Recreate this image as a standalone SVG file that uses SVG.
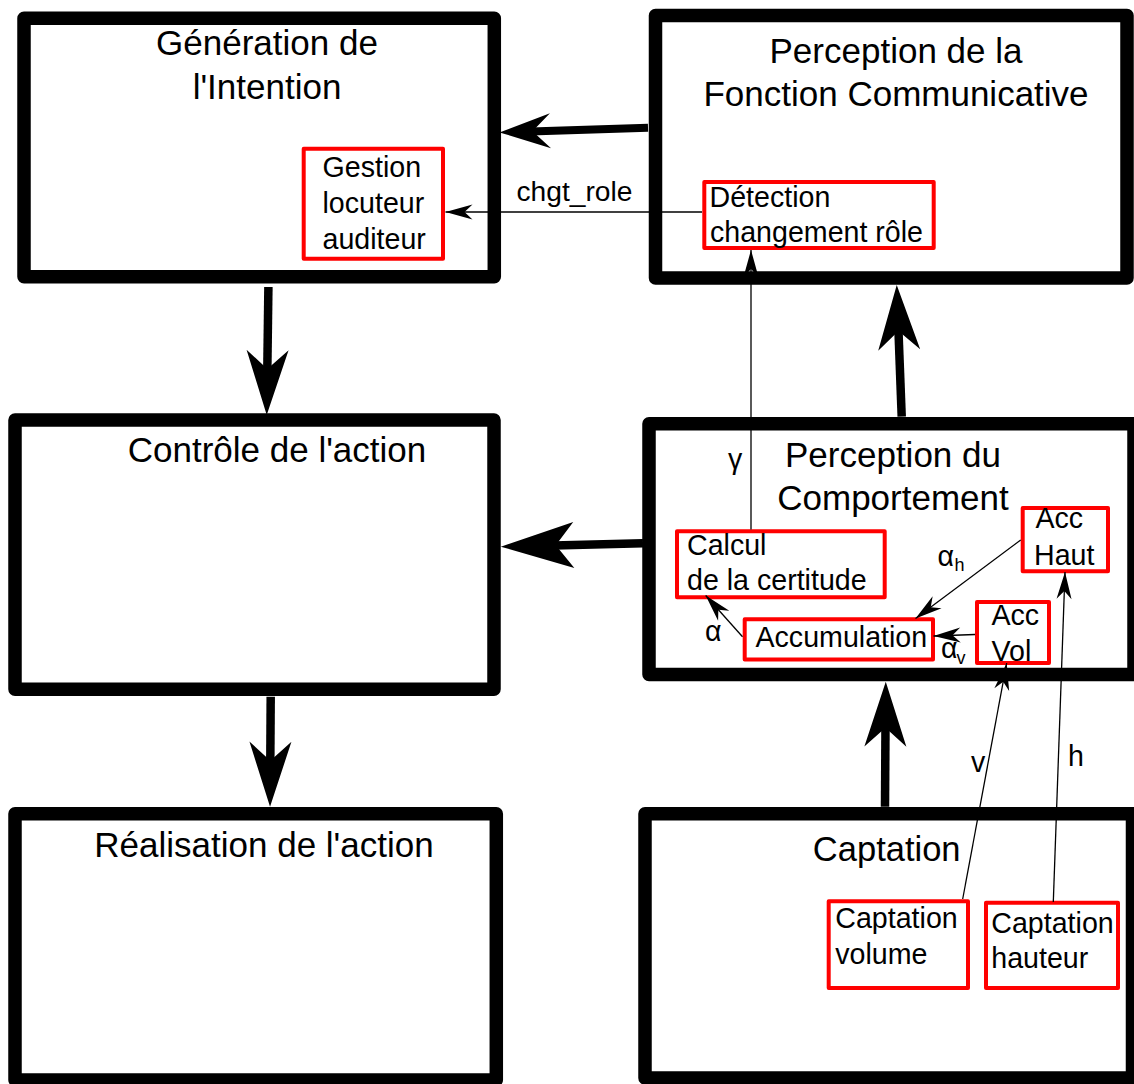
<svg xmlns="http://www.w3.org/2000/svg" width="1134" height="1084" viewBox="0 0 1134 1084">
  <style>
    .box { fill: #ffffff; stroke: #000000; stroke-width: 13.5; stroke-linejoin: round; }
    .sub { fill: #ffffff; stroke: #ff0000; stroke-width: 4; stroke-linejoin: round; }
    .title { font-family: "Liberation Sans", Arial, sans-serif; font-size: 35px; fill: #000000; text-anchor: middle; }
    .lbl { font-family: "Liberation Sans", Arial, sans-serif; font-size: 28.6px; fill: #000000; }
    .sup { font-family: "Liberation Sans", Arial, sans-serif; font-size: 18px; fill: #000000; }
    .thick { fill: none; stroke: #000000; stroke-width: 8.5; }
    .thin { fill: none; stroke: #000000; stroke-width: 1.3; marker-end: url(#arrThin); }
  </style>
  <defs>
    <marker id="arrThin" markerUnits="userSpaceOnUse" viewBox="0 -7.5 27 15" markerWidth="27" markerHeight="15" refX="27" refY="0" orient="auto" overflow="visible">
      <path d="M0,-7.5 L27,0 L0,7.5 L8,0 Z" fill="#000000"/>
    </marker>
    <marker id="arrV" markerUnits="userSpaceOnUse" viewBox="0 -21 65 42" markerWidth="65" markerHeight="42" refX="21" refY="0" orient="auto" overflow="visible">
      <path d="M0,-21 L65,0 L0,21 L19,0 Z" fill="#000000"/>
    </marker>
    <marker id="arrH1" markerUnits="userSpaceOnUse" viewBox="0 -17.5 51 35" markerWidth="51" markerHeight="35" refX="20" refY="0" orient="auto" overflow="visible">
      <path d="M0,-17.5 L51,0 L0,17.5 L18,0 Z" fill="#000000"/>
    </marker>
    <marker id="arrH2" markerUnits="userSpaceOnUse" viewBox="0 -23 73 46" markerWidth="73" markerHeight="46" refX="20" refY="0" orient="auto" overflow="visible">
      <path d="M0,-23 L73,0 L0,23 L18,0 Z" fill="#000000"/>
    </marker>
  </defs>

  <rect x="0" y="0" width="1134" height="1084" fill="#ffffff"/>

  <g id="generation-intention">
    <rect class="box" x="24" y="18.3" width="470.3" height="258.4"/>
    <text class="title" x="267" y="55">Génération de</text>
    <text class="title" x="267" y="99">l'Intention</text>
  </g>

  <g id="perception-fonction">
    <rect class="box" x="655.5" y="15.5" width="471.5" height="262.5"/>
    <text class="title" x="896" y="63.3">Perception de la</text>
    <text class="title" x="896" y="106">Fonction Communicative</text>
  </g>

  <g id="controle-action">
    <rect class="box" x="15" y="420" width="479" height="269.3"/>
    <text class="title" x="277" y="462.3">Contrôle de l'action</text>
  </g>

  <g id="perception-comportement">
    <rect class="box" x="649" y="423.7" width="485" height="250.8"/>
    <text class="title" x="893" y="467.3">Perception du</text>
    <text class="title" x="893" y="510">Comportement</text>
  </g>

  <g id="realisation-action">
    <rect class="box" x="15" y="813.7" width="481.3" height="266.3"/>
    <text class="title" x="264" y="856.7">Réalisation de l'action</text>
  </g>

  <g id="captation">
    <rect class="box" x="645" y="813.7" width="487.5" height="264.3"/>
    <text class="title" x="886.7" y="860.7" style="font-size:34.5px">Captation</text>
  </g>

  <g id="gestion-locuteur">
    <rect class="sub" x="303.7" y="148.7" width="139.3" height="110"/>
    <text class="lbl" x="322.5" y="176.7">Gestion</text>
    <text class="lbl" x="322.5" y="212.7">locuteur</text>
    <text class="lbl" x="322.5" y="249">auditeur</text>
  </g>

  <g id="detection-changement">
    <rect class="sub" x="704.3" y="182" width="229.4" height="66"/>
    <text class="lbl" x="709.5" y="206.7">Détection</text>
    <text class="lbl" x="710" y="241.7">changement rôle</text>
  </g>

  <g id="calcul-certitude">
    <rect class="sub" x="677" y="531.3" width="207.7" height="66"/>
    <text class="lbl" x="687" y="555">Calcul</text>
    <text class="lbl" x="687" y="590">de la certitude</text>
  </g>

  <g id="accumulation">
    <rect class="sub" x="744.7" y="619.3" width="188.3" height="40.3"/>
    <text class="lbl" x="755.5" y="647.3">Accumulation</text>
  </g>

  <g id="acc-haut">
    <rect class="sub" x="1022.7" y="508" width="85.3" height="63.3"/>
    <text class="lbl" x="1035.5" y="528.3">Acc</text>
    <text class="lbl" x="1034" y="565">Haut</text>
  </g>

  <g id="acc-vol">
    <rect class="sub" x="977" y="602" width="72" height="61"/>
    <text class="lbl" x="991.5" y="625">Acc</text>
    <text class="lbl" x="991.5" y="660.7">Vol</text>
  </g>

  <g id="captation-volume">
    <rect class="sub" x="828.7" y="901.3" width="139.3" height="86.7"/>
    <text class="lbl" x="835.3" y="928.3">Captation</text>
    <text class="lbl" x="835.3" y="964">volume</text>
  </g>

  <g id="captation-hauteur">
    <rect class="sub" x="986" y="902.7" width="132" height="85.3"/>
    <text class="lbl" x="991.3" y="932.7">Captation</text>
    <text class="lbl" x="991.3" y="968.3">hauteur</text>
  </g>

  <g id="connectors">
    <line class="thick" x1="268.4" y1="287" x2="267.3" y2="371" marker-end="url(#arrV)"/>
    <line class="thick" x1="270.7" y1="696.7" x2="270.3" y2="762.7" marker-end="url(#arrV)"/>
    <line class="thick" x1="901.7" y1="416.7" x2="898.4" y2="329" marker-end="url(#arrV)"/>
    <line class="thick" x1="885" y1="806.7" x2="885.5" y2="725.7" marker-end="url(#arrV)"/>
    <line class="thick" style="stroke-width:8" x1="648" y1="127.7" x2="530.5" y2="131.4" marker-end="url(#arrH1)"/>
    <line class="thick" x1="643" y1="543.3" x2="553.8" y2="545.4" marker-end="url(#arrH2)"/>

    <line class="thin" x1="702" y1="212" x2="445.5" y2="212"/>
    <line class="thin" x1="751" y1="529.5" x2="751" y2="250"/>
    <line class="thin" x1="742.5" y1="636.7" x2="705.7" y2="595.5"/>
    <line class="thin" x1="1020.7" y1="540" x2="915.5" y2="618.5"/>
    <line class="thin" x1="975" y1="634.5" x2="933.5" y2="636"/>
    <line class="thin" x1="962.7" y1="899" x2="1006.7" y2="663"/>
    <line class="thin" x1="1053.3" y1="902" x2="1065" y2="572"/>

    <text class="lbl" x="516.5" y="201" textLength="116" lengthAdjust="spacingAndGlyphs" style="font-size:27px">chgt_role</text>
    <text class="lbl" x="728" y="469">γ</text>
    <text class="lbl" x="705" y="641">α</text>
    <text class="lbl" x="937.5" y="566">α</text>
    <text class="sup" x="954.5" y="570.7">h</text>
    <text class="lbl" x="941" y="658.3">α</text>
    <text class="sup" x="956.5" y="664">v</text>
    <text class="lbl" x="971" y="772">v</text>
    <text class="lbl" x="1068" y="766">h</text>
  </g>
</svg>
